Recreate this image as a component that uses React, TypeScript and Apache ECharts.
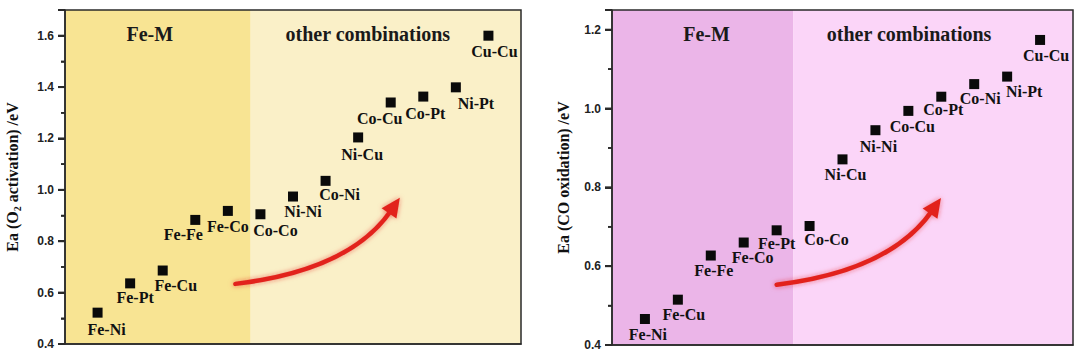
import React, { useEffect, useRef } from 'react';
import * as echarts from 'echarts';

// ---------- data ----------
const leftPairs = ['Fe-Ni', 'Fe-Pt', 'Fe-Cu', 'Fe-Fe', 'Fe-Co', 'Co-Co', 'Ni-Ni', 'Co-Ni', 'Ni-Cu', 'Co-Cu', 'Co-Pt', 'Ni-Pt', 'Cu-Cu'];
const leftEa = [0.522, 0.636, 0.686, 0.883, 0.918, 0.905, 0.974, 1.035, 1.204, 1.34, 1.363, 1.399, 1.6];

const rightPairs = ['Fe-Ni', 'Fe-Cu', 'Fe-Fe', 'Fe-Co', 'Fe-Pt', 'Co-Co', 'Ni-Cu', 'Ni-Ni', 'Co-Cu', 'Co-Pt', 'Co-Ni', 'Ni-Pt', 'Cu-Cu'];
const rightEa = [0.466, 0.515, 0.627, 0.66, 0.691, 0.702, 0.871, 0.945, 0.994, 1.03, 1.062, 1.081, 1.174];

const leftMajorTicks = [0.4, 0.6, 0.8, 1.0, 1.2, 1.4, 1.6];
const leftMinorTicks = [0.5, 0.7, 0.9, 1.1, 1.3, 1.5];
const rightMajorTicks = [0.4, 0.6, 0.8, 1.0, 1.2];
const rightMinorTicks = [0.5, 0.7, 0.9, 1.1];

const regionNames = ['Fe-M', 'other combinations'];

// ---------- layout / style (not data) ----------
const leftLabelOffset = [[9, 17], [5, 14], [13, 15], [-12, 15], [0, 16], [15, 16], [10, 15], [14, 14], [4, 17], [-11, 16], [2, 17], [20, 16], [6, 16]];
const rightLabelOffset = [[3, 16], [6, 15], [3, 15], [9, 15], [0, 13], [17, 14], [3, 15], [3, 16], [4, 16], [2, 13], [6, 14], [17, 15], [6, 16]];

const leftSplit = 5.7;
const rightSplit = 5.5;

const leftArrow = { start: [5.23, 0.634], ctrl: [8.74, 0.687], tip: [10.28, 0.969] };
const rightArrow = { start: [5.0, 0.553], ctrl: [8.44, 0.588], tip: [9.99, 0.773] };

const SERIF = '"Liberation Serif", "Times New Roman", serif';
const SANS = '"Liberation Sans", Arial, sans-serif';
const AXIS = '#2a2a2a';

function buildPoints(pairs: string[], vals: number[], offs: number[][]) {
  return pairs.map((name, i) => ({
    name,
    value: [i + 1, vals[i]],
    label: { offset: [offs[i][0], offs[i][1] - 15] },
  }));
}

function frameSeries(xi: number, yi: number, arrow: any, major: number[], minor: number[]) {
  return {
    type: 'custom',
    xAxisIndex: xi,
    yAxisIndex: yi,
    silent: true,
    z: 6,
    clip: false,
    data: [[arrow.tip[0], arrow.tip[1]]],
    renderItem: (params: any, api: any) => {
      const cs = params.coordSys;
      const p0 = api.coord(arrow.start);
      const c = api.coord(arrow.ctrl);
      const t = api.coord(arrow.tip);
      let dx = t[0] - c[0];
      let dy = t[1] - c[1];
      const len = Math.hypot(dx, dy);
      dx /= len;
      dy /= len;
      const L = 19;
      const W = 9;
      const bx = t[0] - dx * L;
      const by = t[1] - dy * L;
      const px = -dy;
      const py = dx;
      const red = '#e2231c';
      const tickLine = (v: number, l: number, w: number) => {
        const y = api.coord([0, v])[1];
        return { type: 'line', shape: { x1: cs.x - l, y1: y, x2: cs.x, y2: y }, style: { stroke: AXIS, lineWidth: w } };
      };
      return {
        type: 'group',
        children: [
          {
            type: 'rect',
            shape: { x: cs.x, y: cs.y, width: cs.width, height: cs.height },
            style: { stroke: AXIS, lineWidth: 1.5, fill: 'none' },
          },
          ...major.map((v) => tickLine(v, 7, 2)),
          ...minor.map((v) => tickLine(v, 4, 1.6)),
          {
            type: 'bezierCurve',
            shape: { x1: p0[0], y1: p0[1], cpx1: c[0], cpy1: c[1], x2: bx + dx * 3, y2: by + dy * 3 },
            style: { stroke: red, lineWidth: 4.5, fill: 'none', lineCap: 'round', shadowBlur: 5, shadowColor: 'rgba(225,30,30,0.55)' },
          },
          {
            type: 'polygon',
            shape: { points: [[t[0], t[1]], [bx + px * W, by + py * W], [bx - px * W, by - py * W]] },
            style: { fill: red, shadowBlur: 5, shadowColor: 'rgba(225,30,30,0.55)' },
          },
        ],
      };
    },
  };
}

function scatterSeries(xi: number, yi: number, pairs: string[], vals: number[], offs: number[][], split: number, dark: string, light: string, titleOff: number[][]) {
  return {
    type: 'scatter',
    xAxisIndex: xi,
    yAxisIndex: yi,
    symbol: 'rect',
    symbolSize: 10,
    itemStyle: { color: '#0a0a0a', opacity: 1 },
    z: 5,
    label: {
      show: true,
      position: 'bottom',
      distance: 2,
      formatter: '{b}',
      fontFamily: SERIF,
      fontWeight: 'bold',
      fontSize: 16,
      color: '#111',
      opacity: 1,
    },
    data: buildPoints(pairs, vals, offs),
    markArea: {
      silent: true,
      label: {
        show: true,
        position: 'insideTop',
        distance: 14,
        fontFamily: SERIF,
        fontWeight: 'bold',
        fontSize: 20,
        color: '#1a1a1a',
      },
      data: [
        [
          { name: regionNames[0], xAxis: 0, itemStyle: { color: dark, opacity: 1 }, label: { offset: titleOff[0] } },
          { xAxis: split },
        ],
        [
          { name: regionNames[1], xAxis: split, itemStyle: { color: light, opacity: 1 }, label: { offset: titleOff[1] } },
          { xAxis: 14 },
        ],
      ],
    },
  };
}

function yAxisMain(grid: number, min: number, max: number, name: string, gap: number) {
  return {
    type: 'value',
    gridIndex: grid,
    min,
    max,
    interval: 0.2,
    z: 10,
    name,
    nameLocation: 'middle',
    nameGap: gap,
    nameTextStyle: {
      fontFamily: SERIF,
      fontWeight: 'bold',
      fontSize: 16,
      color: '#111',
      rich: { sub: { fontFamily: SERIF, fontWeight: 'bold', fontSize: 10, color: '#111', padding: [10, 0, 0, 0] } },
    },
    axisLine: { show: true, onZero: false, lineStyle: { color: AXIS, width: 1.5 } },
    axisTick: { show: true, length: 7, lineStyle: { color: AXIS, width: 2 } },
    minorTick: { show: true, splitNumber: 2, length: 4, lineStyle: { color: AXIS, width: 1.6 } },
    splitLine: { show: false },
    axisLabel: {
      showMaxLabel: false,
      margin: 11,
      fontFamily: SANS,
      fontWeight: 'bold',
      fontSize: 12,
      color: '#222',
      formatter: (v: number) => v.toFixed(1),
    },
  };
}

function xAxis(grid: number) {
  return {
    type: 'value',
    gridIndex: grid,
    min: 0,
    max: 14,
    z: 10,
    axisLine: { show: true, onZero: false, lineStyle: { color: AXIS, width: 1.5 } },
    axisTick: { show: false },
    axisLabel: { show: false },
    splitLine: { show: false },
  };
}

export default function App() {
  const ref = useRef<HTMLDivElement>(null);
  useEffect(() => {
    if (!ref.current) return;
    const chart = echarts.init(ref.current, null, { renderer: 'svg' });
    chart.setOption({
      animation: false,
      backgroundColor: '#ffffff',
      grid: [
        { left: 65, top: 10, width: 456, height: 334 },
        { left: 612, top: 10, width: 461, height: 335 },
      ],
      xAxis: [xAxis(0), xAxis(1)],
      yAxis: [
        yAxisMain(0, 0.4, 1.7, 'Ea (O{sub|2} activation) /eV', 43),
        yAxisMain(1, 0.4, 1.25, 'Ea (CO oxidation) /eV', 41),
      ],
      series: [
        scatterSeries(0, 0, leftPairs, leftEa, leftLabelOffset, leftSplit, '#f8e493', '#faf0c8', [[-8, 0], [-18, 0]]),
        frameSeries(0, 0, leftArrow, leftMajorTicks, leftMinorTicks),
        scatterSeries(1, 1, rightPairs, rightEa, rightLabelOffset, rightSplit, '#ebb5e8', '#fbd5f8', [[4, 0], [-24, 0]]),
        frameSeries(1, 1, rightArrow, rightMajorTicks, rightMinorTicks),
      ],
    });
    return () => chart.dispose();
  }, []);
  return <div ref={ref} style={{ position: 'absolute', left: 0, top: 0, width: 1080, height: 359 }} />;
}
